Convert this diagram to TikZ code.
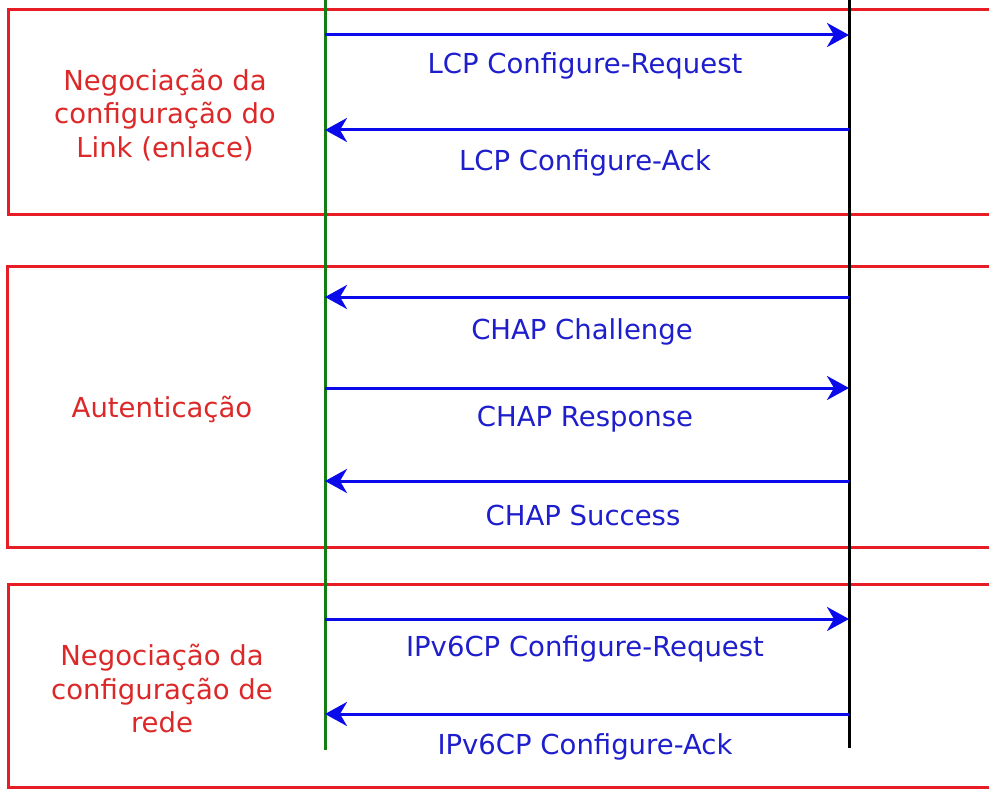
\documentclass[tikz,border=0pt]{standalone}
\usepackage{fontspec}
\setmainfont{DejaVu Sans}
\usetikzlibrary{arrows.meta}
\definecolor{boxred}{RGB}{232,28,36}
\definecolor{txtred}{RGB}{220,40,40}
\definecolor{arrblue}{RGB}{10,10,235}
\definecolor{txtblue}{RGB}{30,30,205}
\definecolor{lifegreen}{RGB}{20,125,20}
\tikzset{
  phasebox/.style={draw=boxred, line width=3pt},
  lifeline/.style={line width=3pt},
  msg/.style={draw=arrblue, line width=3pt, -{Stealth[length=22pt,width=24pt,inset=7pt]}},
  msglabel/.style={text=txtblue, font=\fontsize{27.5}{33}\selectfont, inner sep=0pt, anchor=center},
  phaselabel/.style={text=txtred, font=\fontsize{27.5}{33.5}\selectfont, align=center, inner sep=0pt, anchor=center}
}
\begin{document}
\begin{tikzpicture}[x=1pt,y=-1pt]
\clip (0,0) rectangle (989,789);
\fill[white] (0,0) rectangle (989,789);
% phase boxes
\draw[phasebox] (8,10) rectangle (1010,215);
\draw[phasebox] (7,266) rectangle (1010,547);
\draw[phasebox] (8,584) rectangle (1010,787);
% lifelines
\coordinate (gtop) at (325,-5);
\coordinate (gbot) at (325,750);
\coordinate (ktop) at (849,-5);
\coordinate (kbot) at (849,748);
\draw[lifeline, draw=lifegreen] (gtop) -- (gbot);
\draw[lifeline, draw=black] (ktop) -- (kbot);
% phase labels
\node[phaselabel] (p1) at (165,115) {Negociação da\\configuração do\\Link (enlace)};
\node[phaselabel] (p2) at (162,409) {Autenticação};
\node[phaselabel] (p3) at (162,689) {Negociação da\\configuração de\\rede};
% message endpoints
\coordinate (a1) at (325,35);  \coordinate (b1) at (849,35);
\coordinate (a2) at (325,130); \coordinate (b2) at (849,130);
\coordinate (a3) at (325,297); \coordinate (b3) at (849,297);
\coordinate (a4) at (325,388); \coordinate (b4) at (849,388);
\coordinate (a5) at (325,481); \coordinate (b5) at (849,481);
\coordinate (a6) at (325,619); \coordinate (b6) at (849,619);
\coordinate (a7) at (325,714); \coordinate (b7) at (849,714);
\draw[msg] (a1) -- (b1);
\draw[msg] (b2) -- (a2);
\draw[msg] (b3) -- (a3);
\draw[msg] (a4) -- (b4);
\draw[msg] (b5) -- (a5);
\draw[msg] (a6) -- (b6);
\draw[msg] (b7) -- (a7);
% message labels
\node[msglabel] (m1) at (585,66) {LCP Configure-Request};
\node[msglabel] (m2) at (585,163) {LCP Configure-Ack};
\node[msglabel] (m3) at (582,332) {CHAP Challenge};
\node[msglabel] (m4) at (585,419) {CHAP Response};
\node[msglabel] (m5) at (583,515) {CHAP Success};
\node[msglabel] (m6) at (585,649) {IPv6CP Configure-Request};
\node[msglabel] (m7) at (585,747) {IPv6CP Configure-Ack};
\end{tikzpicture}
\end{document}
